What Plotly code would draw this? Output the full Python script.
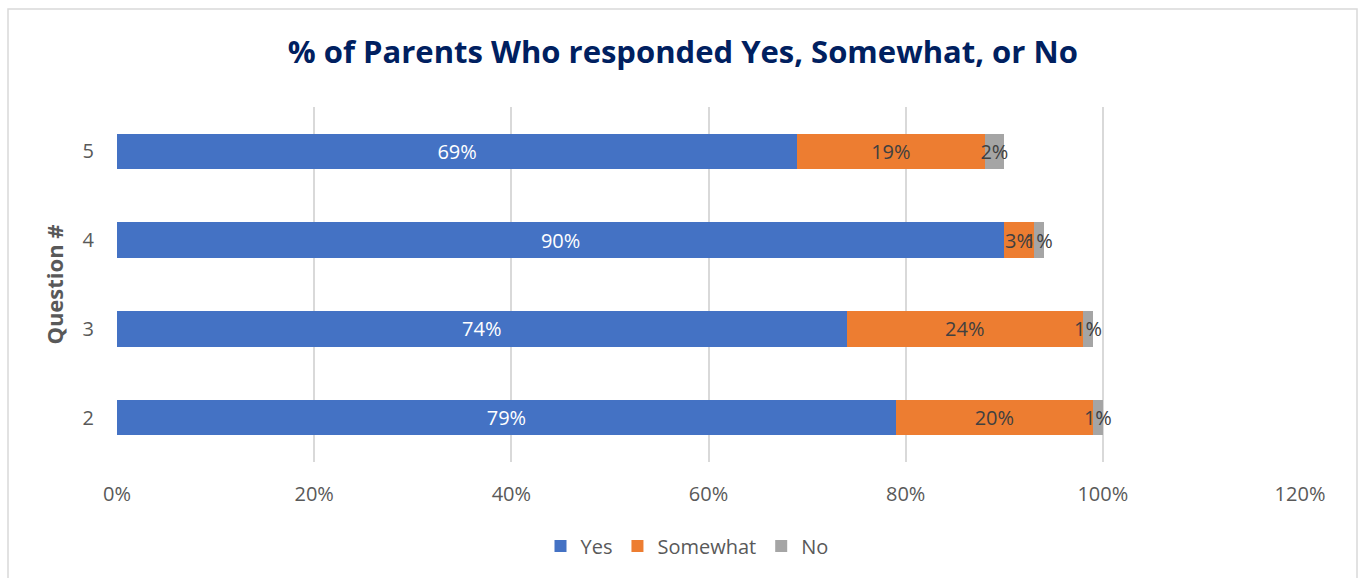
import plotly.graph_objects as go

questions = ["2", "3", "4", "5"]
yes_vals = [79, 74, 90, 69]
somewhat_vals = [20, 24, 3, 19]
no_vals = [1, 1, 1, 2]
series_names = ["Yes", "Somewhat", "No"]
colors = ["#4472C4", "#ED7D31", "#A5A5A5"]
label_colors = ["#FFFFFF", "#404040", "#404040"]
x_ticks = [0, 20, 40, 60, 80, 100, 120]

FONT = "Open Sans"

fig = go.Figure()
for name, vals, col, lc in zip(series_names, [yes_vals, somewhat_vals, no_vals], colors, label_colors):
    fig.add_trace(go.Bar(
        y=questions, x=vals, name=name, orientation="h",
        marker=dict(color=col, line=dict(width=0)),
        text=[f"{v}%" for v in vals], textposition="inside",
        insidetextanchor="middle", textangle=0,
        textfont=dict(color=lc, size=20, family=FONT),
        cliponaxis=False,
    ))

L, R, T, B = 117, 1300, 107, 462
W, H = 1363, 578
pw, ph = R - L, B - T

fig.update_layout(
    width=W, height=H,
    margin=dict(l=L, r=W - R, t=T, b=H - B),
    barmode="stack", bargap=0.6,
    paper_bgcolor="white", plot_bgcolor="white",
    font=dict(family=FONT, color="#595959", size=20),
    uniformtext=dict(minsize=20, mode="show"),
    title=dict(text="<b>% of Parents Who responded Yes, Somewhat, or No</b>",
               x=0.501, xanchor="center", y=1 - 52 / H, yanchor="middle",
               font=dict(size=31, color="#002060", family=FONT)),
    xaxis=dict(range=[0, 120], tickvals=x_ticks, ticktext=[f"{t}%" for t in x_ticks],
               showgrid=True, gridcolor="#D9D9D9", gridwidth=1.5, zeroline=False,
               showline=False, ticks="", ticklabelstandoff=18,
               tickfont=dict(size=20, color="#595959")),
    yaxis=dict(type="category", categoryorder="array", categoryarray=questions,
               showgrid=False, zeroline=False, showline=False, ticks="",
               ticklabelstandoff=22, tickfont=dict(size=20, color="#595959"),
               title=dict(text="<b>Question #</b>", standoff=12,
                          font=dict(size=22, color="#595959", family=FONT))),
    legend=dict(orientation="h", x=(687 - L) / pw, xanchor="center",
                y=(B - 546) / ph, yanchor="middle",
                font=dict(size=20, color="#595959"), itemwidth=30,
                traceorder="normal"),
    shapes=[dict(type="rect", xref="paper", yref="paper",
                 x0=(8 - L) / pw, x1=(1357 - L) / pw,
                 y0=(B - 600) / ph, y1=(B - 9) / ph,
                 line=dict(color="#D9D9D9", width=1.5), layer="below")],
)

fig.write_html("out.html")
